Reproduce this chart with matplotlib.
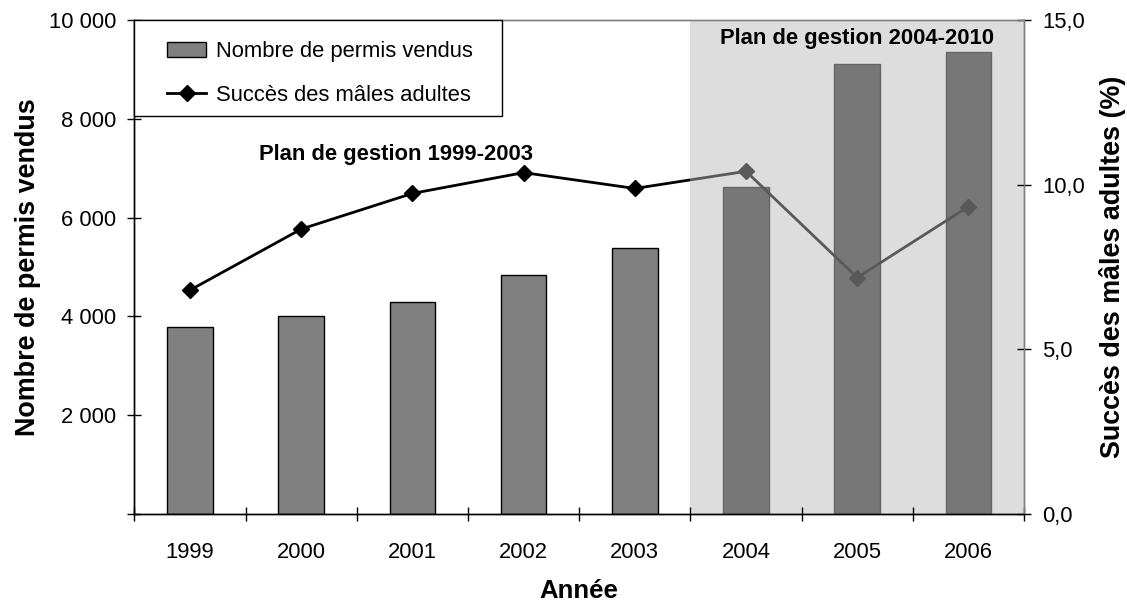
import numpy as np
import matplotlib.pyplot as plt
from matplotlib.patches import Rectangle, Patch
from matplotlib.lines import Line2D
from matplotlib.ticker import FuncFormatter

plt.rcParams["font.family"] = ["Liberation Sans", "DejaVu Sans"]

# data
years = ["1999", "2000", "2001", "2002", "2003", "2004", "2005", "2006"]
permis = [3780, 4000, 4300, 4830, 5380, 6610, 9110, 9340]
succes = [6.8, 8.65, 9.73, 10.36, 9.88, 10.4, 7.18, 9.33]
plan1_label = "Plan de gestion 1999-2003"
plan2_label = "Plan de gestion 2004-2010"
plan2_start = 4.5  # category boundary between 2003 and 2004

x = np.arange(len(years))
n = len(years)

fig = plt.figure(figsize=(11.27, 6.04), dpi=100)
ax = fig.add_axes([0.1193, 0.1482, 0.7893, 0.8195])
ax2 = ax.twinx()

# shaded area for the second plan
ax.axvspan(plan2_start, n - 0.5, color="#dddddd", zorder=0, lw=0)

bar_colors = ["#808080" if xi < plan2_start else "#777777" for xi in x]
bar_edges = ["#000000" if xi < plan2_start else "#666666" for xi in x]
ax.bar(x, permis, width=0.41, color=bar_colors, edgecolor=bar_edges,
       linewidth=1.0, zorder=2)

ax.set_xlim(-0.5, n - 0.5)
ax.set_ylim(0, 10000)
ax.set_yticks(np.arange(0, 10001, 2000))
ax.yaxis.set_major_formatter(FuncFormatter(
    lambda v, p: "" if v == 0 else f"{int(v):,}".replace(",", " ")))
ax.set_xticks(x)
ax.set_xticklabels(years)
ax.set_xticks(np.arange(-0.5, n, 1), minor=True)
ax.tick_params(axis="x", which="major", length=0, pad=20, labelsize=15.8)
ax.tick_params(axis="x", which="minor", direction="inout", length=10, width=1)
ax.tick_params(axis="y", direction="inout", length=10, width=1, labelsize=15.8, pad=8)

# success line: black before plan 2, grey inside the shaded area
for x0, x1, col in [(-0.5, plan2_start, "#000000"), (plan2_start, n - 0.5, "#595959")]:
    ln, = ax2.plot(x, succes, color=col, lw=2, marker="D", ms=8.5, zorder=3)
    clip = Rectangle((x0, -100), x1 - x0, 300, transform=ax2.transData)
    ln.set_clip_path(clip)

ax2.set_ylim(0, 15)
ax2.set_yticks([0, 5, 10, 15])
ax2.yaxis.set_major_formatter(FuncFormatter(lambda v, p: f"{v:.1f}".replace(".", ",")))
ax2.tick_params(axis="y", direction="inout", length=10, width=1, labelsize=15.8, pad=8)

for a in (ax, ax2):
    a.spines["top"].set_color("#808080")
    a.spines["left"].set_color("#000000")
    a.spines["bottom"].set_color("#000000")
    a.spines["right"].set_color("#808080")
    for s in a.spines.values():
        s.set_linewidth(1.0)

ax.set_xlabel("Année", fontsize=18.5, fontweight="bold", labelpad=11)
ax.set_ylabel("Nombre de permis vendus", fontsize=19.4, fontweight="bold", labelpad=6)
ax2.set_ylabel("Succès des mâles adultes (%)", fontsize=19.4, fontweight="bold", labelpad=10)

ax2.text(1.85, 10.9, plan1_label, fontsize=15.8, fontweight="bold",
         ha="center", va="center", zorder=5)
ax2.text(6.0, 14.42, plan2_label, fontsize=15.8, fontweight="bold",
         ha="center", va="center", zorder=5)

# legend with its own box, flush with the top-left corner of the plot
ax2.add_patch(Rectangle((0, 0.805), 0.4132, 0.195, transform=ax2.transAxes,
                        facecolor="white", edgecolor="black", lw=1.0,
                        zorder=9, clip_on=False))
handles = [Patch(facecolor="#808080", edgecolor="#000000", lw=1),
           Line2D([], [], color="#000000", lw=2, marker="D", ms=8)]
leg = ax2.legend(handles, ["Nombre de permis vendus", "Succès des mâles adultes"],
                 loc="upper left", bbox_to_anchor=(0.0365, 0.9556), borderaxespad=0,
                 fontsize=15.8, frameon=False, borderpad=0, labelspacing=1.02,
                 handlelength=1.8, handletextpad=0.45)
leg.set_zorder(10)

fig.savefig("out.png", dpi=100)
